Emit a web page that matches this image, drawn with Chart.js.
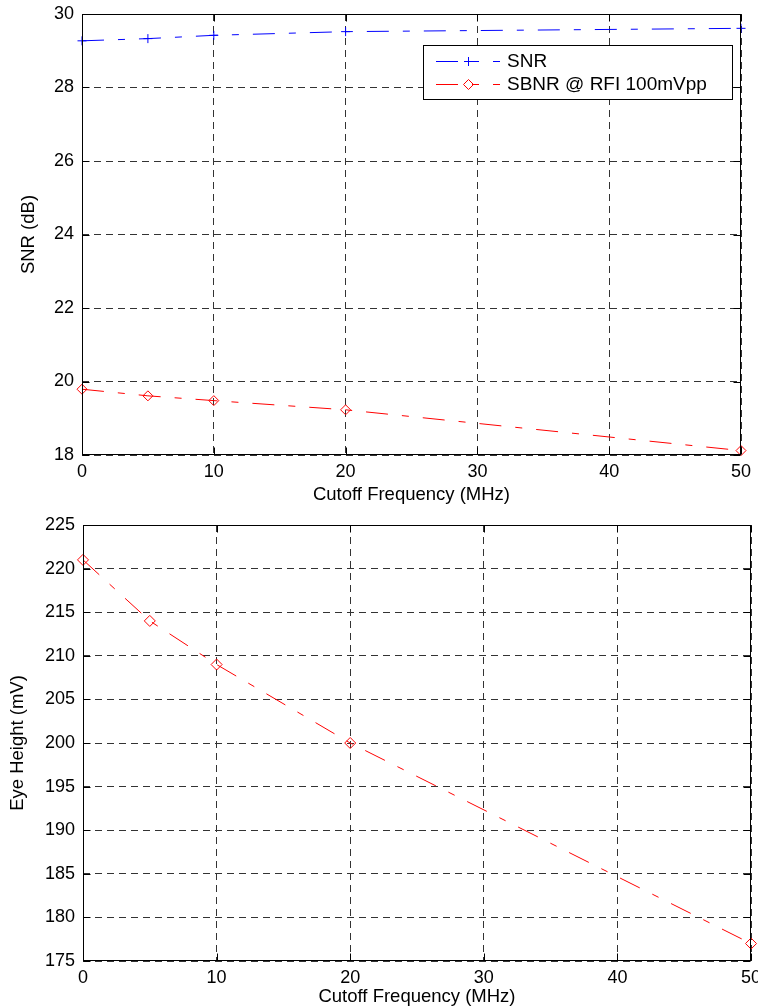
<!DOCTYPE html>
<html>
<head>
<meta charset="utf-8">
<script src="https://cdn.jsdelivr.net/npm/chart.js@4.4.0/dist/chart.umd.min.js"></script>
<style>
  html, body { margin: 0; padding: 0; background: #fff; }
  #top { position: absolute; left: 0; top: 0; width: 758px; height: 506px; }
  #bottom { position: absolute; left: 0; top: 506px; width: 758px; height: 502px; }
</style>
</head>
<body>
<div id="top"><canvas id="snrChart"></canvas></div>
<div id="bottom"><canvas id="eyeChart"></canvas></div>
<script>
// cutoff frequency of the filter (MHz)
var cutoff = [0, 5, 10, 20, 50];
// top plot (dB)
var snr = [29.27, 29.33, 29.42, 29.52, 29.61];
var sbnr = [19.79, 19.61, 19.48, 19.23, 18.12];
// bottom plot (mV)
var eyeHeight = [221, 214, 209, 200, 177];

var xTicks = [0, 50, 10];       // min, max, step
var snrTicks = [18, 30, 2];
var eyeTicks = [175, 225, 5];

Chart.defaults.font.family = '"Liberation Sans", Arial, sans-serif';
Chart.defaults.color = '#000';

function pts(ys) {
  return cutoff.map(function (x, i) { return {x: x, y: ys[i]}; });
}

function marker(ctx, style, x, y, r) {
  ctx.beginPath();
  if (style === 'cross') {
    ctx.moveTo(x - r, y); ctx.lineTo(x + r, y);
    ctx.moveTo(x, y - r); ctx.lineTo(x, y + r);
  } else {
    ctx.moveTo(x - r, y); ctx.lineTo(x, y - r);
    ctx.lineTo(x + r, y); ctx.lineTo(x, y + r);
    ctx.closePath();
  }
  ctx.stroke();
}

// matlab style box with inward ticks
var frame = {
  id: 'frame',
  afterDatasetsDraw: function (chart) {
    var ctx = chart.ctx, a = chart.chartArea;
    var L = Math.round(a.left) + 0.5, R = Math.round(a.right) - 0.5;
    var T = Math.round(a.top) + 0.5, B = Math.round(a.bottom) - 0.5;
    ctx.save();
    ctx.strokeStyle = '#000';
    ctx.lineWidth = 1;
    ctx.setLineDash([]);
    ctx.strokeRect(L, T, R - L, B - T);
    ctx.beginPath();
    chart.scales.x.ticks.forEach(function (t) {
      var px = Math.round(chart.scales.x.getPixelForValue(t.value)) + 0.5;
      ctx.moveTo(px, B); ctx.lineTo(px, B - 7);
      ctx.moveTo(px, T); ctx.lineTo(px, T + 7);
    });
    chart.scales.y.ticks.forEach(function (t) {
      var py = Math.round(chart.scales.y.getPixelForValue(t.value)) + 0.5;
      ctx.moveTo(L, py); ctx.lineTo(L + 7, py);
      ctx.moveTo(R, py); ctx.lineTo(R - 7, py);
    });
    ctx.stroke();
    ctx.restore();
  }
};

var boxLegend = {
  id: 'boxLegend',
  afterDraw: function (chart, args, o) {
    if (!o.show) return;
    var ctx = chart.ctx;
    ctx.save();
    ctx.fillStyle = '#fff';
    ctx.fillRect(o.x, o.y, o.w, o.h);
    ctx.strokeStyle = '#000';
    ctx.lineWidth = 1;
    ctx.strokeRect(o.x + 0.5, o.y + 0.5, o.w, o.h);
    chart.data.datasets.forEach(function (ds, i) {
      var y = Math.round(o.y + o.rowTop + i * o.rowGap) + 0.5;
      ctx.lineWidth = 1;
      ctx.strokeStyle = ds.borderColor;
      ctx.setLineDash(ds.borderDash);
      ctx.beginPath();
      ctx.moveTo(o.x + 13, y); ctx.lineTo(o.x + 77, y);
      ctx.stroke();
      ctx.setLineDash([]);
      ctx.strokeStyle = ds.pointBorderColor;
      marker(ctx, ds.pointStyle, o.x + 45.5, y, ds.pointRadius);
      ctx.fillStyle = '#000';
      ctx.font = '19px "Liberation Sans", Arial, sans-serif';
      ctx.textBaseline = 'middle';
      ctx.fillText(ds.label, o.x + 84, y);
    });
    ctx.restore();
  }
};

function series(label, ys, color, style, r) {
  return {
    label: label, data: pts(ys),
    borderColor: color, borderWidth: 1, borderDash: [22, 14, 7, 14],
    pointStyle: style, pointRadius: r, pointHoverRadius: r,
    pointBorderColor: color, pointBackgroundColor: 'rgba(0,0,0,0)', pointBorderWidth: 1,
    fill: false, tension: 0, clip: false
  };
}

function scales(yT, yTitle, yTitlePad, yWidth, xHeight) {
  var grid = {color: '#333', lineWidth: 1, drawTicks: false};
  var border = {display: false, dash: [7, 5]};
  return {
    x: {
      type: 'linear', min: xTicks[0], max: xTicks[1],
      ticks: {stepSize: xTicks[2], padding: 6, maxRotation: 0, font: {size: 18}},
      grid: grid, border: border,
      title: {display: true, text: 'Cutoff Frequency (MHz)', font: {size: 18.5}, padding: {top: 0, bottom: 0}},
      afterFit: function (s) { s.height = xHeight; s.paddingLeft = 0; s.paddingRight = 0; }
    },
    y: {
      min: yT[0], max: yT[1],
      ticks: {stepSize: yT[2], padding: 8, font: {size: 18}},
      grid: grid, border: border,
      title: {display: true, text: yTitle, font: {size: 18.5}, padding: {top: yTitlePad, bottom: 0}},
      afterFit: function (s) { s.width = yWidth; s.paddingTop = 0; s.paddingBottom = 0; }
    }
  };
}

new Chart('snrChart', {
  type: 'line',
  data: {
    datasets: [
      series('SNR', snr, '#0000ff', 'cross', 4.5),
      series('SBNR @ RFI 100mVpp', sbnr, '#ff0000', 'rectRot', 5)
    ]
  },
  options: {
    responsive: true, maintainAspectRatio: false, animation: false,
    layout: {padding: {left: 0, top: 14, right: 17, bottom: 0}},
    scales: scales(snrTicks, 'SNR (dB)', 18, 82, 51),
    plugins: {
      legend: {display: false}, tooltip: {enabled: false},
      boxLegend: {show: true, x: 423, y: 45, w: 309, h: 54, rowTop: 16, rowGap: 22.5}
    }
  },
  plugins: [frame, boxLegend]
});

new Chart('eyeChart', {
  type: 'line',
  data: {
    datasets: [
      series('Eye Height', eyeHeight, '#ff0000', 'rectRot', 5.5)
    ]
  },
  options: {
    responsive: true, maintainAspectRatio: false, animation: false,
    layout: {padding: {left: 0, top: 19, right: 7, bottom: 0}},
    scales: scales(eyeTicks, 'Eye Height (mV)', 7, 83, 47),
    plugins: {
      legend: {display: false}, tooltip: {enabled: false},
      boxLegend: {show: false}
    }
  },
  plugins: [frame, boxLegend]
});
</script>
</body>
</html>
